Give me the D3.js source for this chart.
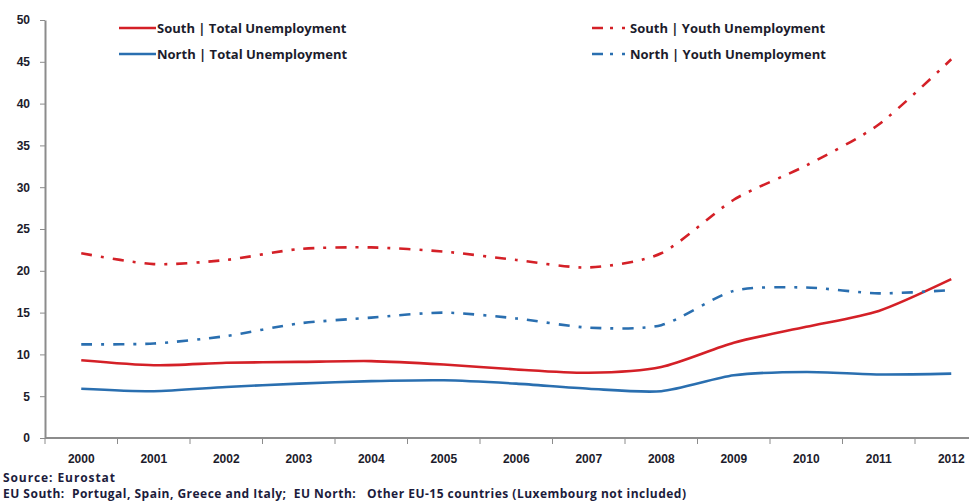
<!DOCTYPE html>
<html>
<head>
<meta charset="utf-8">
<script src="https://cdn.jsdelivr.net/npm/d3@7"></script>
<style>
  body { margin: 0; background: #fff; }
  svg { display: block; font-family: "Open Sans", "Liberation Sans", sans-serif; }
  .axis text { font-weight: bold; fill: #1c1c2c; font-size: 12px; }
  .axis path, .axis line { stroke: #8c8c8c; }
</style>
</head>
<body>
<div id="chart"></div>
<script>
// Dữ liệu
const years = ["2000", "2001", "2002", "2003", "2004", "2005", "2006", "2007", "2008", "2009", "2010", "2011", "2012"];
const southTotal = [9.3, 8.7, 9.0, 9.1, 9.2, 8.8, 8.2, 7.8, 8.5, 11.4, 13.3, 15.2, 19.0];
const northTotal = [5.9, 5.6, 6.1, 6.5, 6.8, 6.9, 6.5, 5.9, 5.6, 7.5, 7.9, 7.6, 7.7];
const southYouth = [22.1, 20.8, 21.3, 22.6, 22.8, 22.3, 21.3, 20.4, 22.1, 28.5, 32.6, 37.5, 45.3];
const northYouth = [11.2, 11.3, 12.2, 13.7, 14.4, 15.0, 14.3, 13.2, 13.5, 17.6, 18.0, 17.3, 17.7];
const yTicks = [0, 5, 10, 15, 20, 25, 30, 35, 40, 45, 50];

const red = "#d42027", blue = "#2a6fb0";
const dashDot = "11,9,3,9";

const series = [
  { name: "South | Total Unemployment", values: southTotal, color: red, dash: null },
  { name: "North | Total Unemployment", values: northTotal, color: blue, dash: null },
  { name: "South | Youth Unemployment", values: southYouth, color: red, dash: dashDot },
  { name: "North | Youth Unemployment", values: northYouth, color: blue, dash: dashDot }
];

const width = 969, height = 502;
const margin = { left: 45, top: 20, bottom: 438 };
const step = 72.5;

const svg = d3.select("#chart").append("svg")
  .attr("width", width)
  .attr("height", height);

// Thang đo
const x = d3.scaleBand()
  .domain(years)
  .range([margin.left, margin.left + step * years.length]);

const y = d3.scaleLinear()
  .domain([0, 50])
  .range([margin.bottom, margin.top]);

// Trục Y
svg.append("g")
  .attr("class", "axis")
  .attr("transform", `translate(${margin.left},0)`)
  .call(d3.axisLeft(y).tickValues(yTicks).tickSize(5).tickSizeOuter(0).tickPadding(10))
  .call(g => g.select(".domain").attr("stroke-width", 2));

// Trục X
const xAxis = svg.append("g")
  .attr("class", "axis")
  .attr("transform", `translate(0,${margin.bottom})`)
  .call(d3.axisBottom(x).tickSize(0).tickPadding(16));
xAxis.select(".domain").attr("stroke-width", 2).attr("d", `M${margin.left},0H${width}`);
xAxis.selectAll(".sep")
  .data(years)
  .enter().append("line")
  .attr("class", "sep")
  .attr("x1", d => x(d)).attr("x2", d => x(d))
  .attr("y1", 0).attr("y2", 6);

// Đường
const line = d3.line()
  .x((d, i) => x(years[i]) + x.bandwidth() / 2)
  .y(d => y(d))
  .curve(d3.curveCardinal.tension(0.25));

svg.selectAll(".series")
  .data(series)
  .enter().append("path")
  .attr("class", "series")
  .attr("fill", "none")
  .attr("stroke", d => d.color)
  .attr("stroke-width", 2.6)
  .attr("stroke-dasharray", d => d.dash)
  .attr("d", d => line(d.values));

// Chú giải
const legendPos = [[119, 28], [119, 54], [592, 28], [592, 54]];
const legend = svg.selectAll(".legend")
  .data(series)
  .enter().append("g")
  .attr("class", "legend")
  .attr("transform", (d, i) => `translate(${legendPos[i][0]},${legendPos[i][1]})`);

legend.append("line")
  .attr("x1", 0).attr("x2", 37)
  .attr("stroke", d => d.color)
  .attr("stroke-width", 2.6)
  .attr("stroke-dasharray", d => d.dash ? "11,7,3,9,3" : null);

legend.append("text")
  .attr("x", 38)
  .attr("dy", "0.35em")
  .style("font-size", "13px")
  .style("font-weight", "bold")
  .attr("fill", "#1c1c2c")
  .text(d => d.name);

// Ghi chú nguồn
svg.append("text")
  .attr("x", 3).attr("y", 482)
  .attr("textLength", 112)
  .style("font-size", "12px").style("font-weight", "bold")
  .attr("fill", "#1c1c3c")
  .text("Source: Eurostat");

svg.append("text")
  .attr("x", 3).attr("y", 498)
  .attr("textLength", 683)
  .style("font-size", "12px").style("font-weight", "bold")
  .style("white-space", "pre")
  .attr("fill", "#1c1c3c")
  .text("EU South:  Portugal, Spain, Greece and Italy;  EU North:   Other EU-15 countries (Luxembourg not included)");
</script>
</body>
</html>
